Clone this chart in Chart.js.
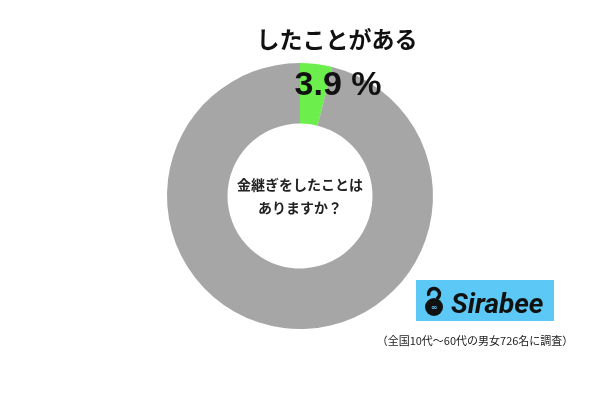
<!DOCTYPE html>
<html>
<head>
<meta charset="utf-8">
<script src="https://cdn.jsdelivr.net/npm/chart.js@4/dist/chart.umd.min.js"></script>
<style>
  html, body { margin: 0; padding: 0; background: #fff; }
  #chart { display: block; }
</style>
</head>
<body>
<canvas id="chart" width="600" height="400"></canvas>
<script>
// === Data ===
const labels = ["したことがある", "したことがない"];
const values = [3.9, 96.1];
const colors = ["#6cef4c", "#a6a6a6"];
const titleText = "したことがある";
const percentText = "3.9 %";
const centerLines = ["金継ぎをしたことは", "ありますか？"];
const footnote = "（全国10代〜60代の男女726名に調査）";

const jpFont = '"Noto Sans CJK JP", "Noto Sans", sans-serif';

// === Texts & logo drawn over the chart ===
const overlayPlugin = {
    id: "overlay",
    afterDraw(chart) {
        const ctx = chart.ctx;
        const meta = chart.getDatasetMeta(0);
        const cx = meta.data[0].x;
        const cy = meta.data[0].y;

        ctx.save();
        ctx.textAlign = "center";
        ctx.textBaseline = "middle";
        ctx.fillStyle = "#111";

        // title
        ctx.font = "bold 23px " + jpFont;
        ctx.fillText(titleText, 337, 39);

        // percent
        ctx.font = "bold 34px 'Liberation Sans', Arial, sans-serif";
        ctx.fillText(percentText, 338, 86);

        // center question
        ctx.font = "bold 14px " + jpFont;
        ctx.fillStyle = "#222";
        ctx.fillText(centerLines[0], cx, cy - 11);
        ctx.fillText(centerLines[1], cx, cy + 12);

        // Sirabee logo
        ctx.fillStyle = "#5bc8f5";
        ctx.fillRect(416, 280, 138, 41);
        ctx.fillStyle = "#111";
        ctx.beginPath();
        ctx.arc(434, 307, 9, 0, 2 * Math.PI);
        ctx.fill();
        ctx.beginPath();
        ctx.arc(434, 294, 5.5, Math.PI * 0.9, Math.PI * 2.35);
        ctx.lineWidth = 3.5;
        ctx.strokeStyle = "#111";
        ctx.stroke();
        ctx.fillStyle = "#5bc8f5";
        ctx.font = "bold 8px DejaVu Sans, sans-serif";
        ctx.fillText("∞", 434, 308);
        ctx.fillStyle = "#111";
        ctx.textAlign = "left";
        ctx.font = "italic bold 28px Roboto, sans-serif";
        ctx.textBaseline = "alphabetic";
        ctx.fillText("Sirabee", 451, 313);

        // footnote
        ctx.textAlign = "center";
        ctx.textBaseline = "middle";
        ctx.font = "11px " + jpFont;
        ctx.fillStyle = "#222";
        ctx.fillText(footnote, 475, 341);
        ctx.restore();
    }
};

// === Chart ===
const chart = new Chart(document.getElementById("chart").getContext("2d"), {
    type: "doughnut",
    data: {
        labels: labels,
        datasets: [{
            data: values,
            backgroundColor: colors,
            borderWidth: 0
        }]
    },
    options: {
        responsive: false,
        animation: false,
        radius: 133,
        cutout: "54.5%",
        layout: { padding: { top: 0, bottom: 8, left: 0, right: 0 } },
        plugins: {
            legend: { display: false },
            tooltip: { enabled: false }
        }
    },
    plugins: [overlayPlugin]
});
</script>
</body>
</html>
